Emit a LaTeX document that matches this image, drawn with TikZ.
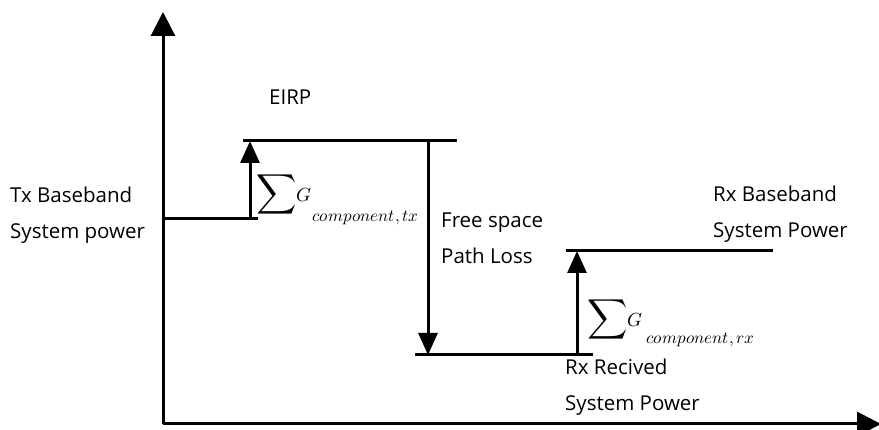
\documentclass[tikz,border=0pt]{standalone}
\usepackage{fontspec}
\usepackage{unicode-math}
\setmainfont{Open Sans}
\setmathfont{Latin Modern Math}
\usetikzlibrary{arrows.meta}
\begin{document}
\begin{tikzpicture}[x=1pt,y=-1pt,
  line/.style={line width=3pt},
  bigarrow/.style={line width=3pt,-{Triangle[width=24pt,length=24pt]}},
  lvlarrow/.style={line width=3pt,-{Triangle[width=19pt,length=22pt]}},
  lbl/.style={anchor=west,inner sep=0pt,font=\fontsize{20.5}{36}\selectfont,align=left},
  sumsym/.style={inner sep=0pt,font=\fontsize{28}{28}\selectfont},
  gsym/.style={inner sep=0pt,font=\fontsize{19}{19}\selectfont},
  subsym/.style={inner sep=0pt,anchor=west,font=\fontsize{17}{17}\selectfont}]
\useasboundingbox (0,0) rectangle (879,430);
% axes
\coordinate (O) at (163,424);
\coordinate (Ytop) at (163,12);
\coordinate (Xend) at (881,424);
\draw[bigarrow] (O) -- (Ytop);
\draw[bigarrow] (O) -- (Xend);
% levels
\coordinate (tx0) at (163,219);
\coordinate (tx1) at (258,219);
\coordinate (txA) at (250,219);
\coordinate (eirp0) at (243,141);
\coordinate (eirp1) at (457,141);
\coordinate (eirpA) at (250,141);
\coordinate (plA) at (428,141);
\coordinate (rxr0) at (415,355);
\coordinate (rxr1) at (593,355);
\coordinate (rxrB) at (428,355);
\coordinate (rxrA) at (577,355);
\coordinate (rxb0) at (566,251);
\coordinate (rxb1) at (773,251);
\coordinate (rxbA) at (577,251);
\draw[line] (tx0) -- (tx1);
\draw[line] (eirp0) -- (eirp1);
\draw[line] (rxr0) -- (rxr1);
\draw[line] (rxb0) -- (rxb1);
\draw[lvlarrow] (txA) -- (eirpA);
\draw[lvlarrow] (plA) -- (rxrB);
\draw[lvlarrow] (rxrA) -- (rxbA);
% labels
\node[lbl] (eirp) at (269,97) {EIRP};
\node[lbl] (txlbl) at (10,215) {Tx Baseband\\System power};
\node[lbl] (fslbl) at (441,238) {Free space\\Path Loss};
\node[lbl] (rxblbl) at (713,214) {Rx Baseband\\System Power};
\node[lbl] (rxrlbl) at (565,387) {Rx Recived\\System Power};
% sums
\node[sumsym] (s1) at (277,195) {$\displaystyle\sum$};
\node[gsym,anchor=west] (g1) at (296,195) {$G$};
\node[subsym] (c1) at (312,218) {$\symit{component,tx}$};
\node[sumsym] (s2) at (608,320) {$\displaystyle\sum$};
\node[gsym,anchor=west] (g2) at (627,320) {$G$};
\node[subsym] (c2) at (646,340) {$\symit{component,rx}$};
\end{tikzpicture}
\end{document}
